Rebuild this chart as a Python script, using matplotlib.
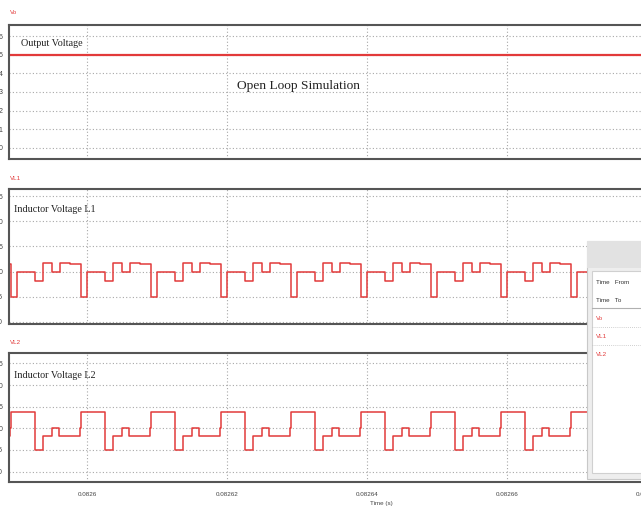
import numpy as np
import matplotlib
matplotlib.use("Agg")
import matplotlib.pyplot as plt
from matplotlib.patches import Rectangle
from matplotlib.lines import Line2D

W, H = 641, 509

# waveform data, one switching period (times in microseconds from period start)
period_us = 10.0
t0 = 0.0826                       # start of a period (s)
vo_level = 5.0
vl1_times = [0.0, 2.57, 3.71, 5.0, 6.14, 7.6, 9.14]
vl1_levels = [0.0, -1.86, 1.71, 0.0, 1.75, 1.6, -5.0]
vl2_times = [0.0, 2.57, 3.71, 5.0, 6.0, 9.0, 9.14]
vl2_levels = [3.86, -5.0, -1.67, 0.0, -1.67, 0.0, 3.86]
n_periods = range(-2, 9)

vo_ticks = [0, 1, 2, 3, 4, 5, 6]
vl_ticks = [-10, -5, 0, 5, 10, 15]
x_ticks = [0.0826, 0.08262, 0.08264, 0.08266, 0.08268]
x_ticklabels = ["0.0826", "0.08262", "0.08264", "0.08266", "0.08268"]

px = 2e-5 / 140.0                  # seconds per pixel
xmin = t0 - 78 * px
xmax = t0 + 573 * px

red = "#e23a3a"
grid_kw = dict(color="#a8a8a8", linestyle=(0, (1, 2)), linewidth=0.8)


def tile(times, levels):
    tt, vv = [], []
    for k in n_periods:
        for a, b in zip(times, levels):
            tt.append(t0 + (k * period_us + a) * 1e-6)
            vv.append(b)
    return np.array(tt), np.array(vv)


def fx(x):
    return x / W


def fy(y):
    return 1 - y / H


def make_axes(top, bottom):
    ax = fig.add_axes([fx(9), fy(bottom), fx(660) - fx(9), (bottom - top) / H])
    ax.set_xlim(xmin, xmax)
    ax.set_xticks(x_ticks)
    ax.grid(True, **grid_kw)
    ax.tick_params(length=0, labelsize=5, pad=4.5, colors="#444444")
    for s in ax.spines.values():
        s.set_color("#555555")
        s.set_linewidth(1.5)
    return ax


fig = plt.figure(figsize=(W / 100, H / 100), dpi=100)
plt.rcParams["font.family"] = "Liberation Sans"

# Vo
ax1 = make_axes(25, 159)
ax1.axhline(vo_level, color=red, lw=1.6)
ax1.set_ylim(-0.6, 6.6)
ax1.set_yticks(vo_ticks)
ax1.set_xticklabels([])
ax1.text(fx(21) / (fx(660) - fx(9)) - 0.0, 0, "")
fig.text(fx(21), fy(43), "Output Voltage", family="Liberation Serif",
         fontsize=7.3, va="center", color="#222222")
fig.text(fx(237), fy(86), "Open Loop Simulation", family="Liberation Serif",
         fontsize=9.6, va="center", color="#222222")

# VL1
ax2 = make_axes(189, 324)
t, v = tile(vl1_times, vl1_levels)
ax2.plot(t, v, drawstyle="steps-post", color=red, lw=1.1)
ax2.set_ylim(-10.4, 16.4)
ax2.set_yticks(vl_ticks)
ax2.set_xticklabels([])
fig.text(fx(14), fy(209), "Inductor Voltage L1", family="Liberation Serif",
         fontsize=7.3, va="center", color="#222222")

# VL2
ax3 = make_axes(353, 482)
t, v = tile(vl2_times, vl2_levels)
ax3.plot(t, v, drawstyle="steps-post", color=red, lw=1.1)
ax3.set_ylim(-12.4, 17.4)
ax3.set_yticks(vl_ticks)
ax3.set_xticklabels(x_ticklabels)
ax3.tick_params(axis="x", labelsize=4.5, pad=7)
fig.text(fx(14), fy(375), "Inductor Voltage L2", family="Liberation Serif",
         fontsize=7.3, va="center", color="#222222")
fig.text(fx(381), fy(503), "Time (s)", fontsize=4.5, ha="center",
         va="center", color="#444444")

# trace names above each panel
for name, y in [("Vo", 13), ("VL1", 178), ("VL2", 342)]:
    fig.text(fx(10), fy(y), name, fontsize=4.5, color=red, va="center")

# measurement side panel
def rect(x0, y0, x1, y1, fc, ec, lw=0.8):
    fig.add_artist(Rectangle((fx(x0), fy(y1)), fx(x1) - fx(x0), (y1 - y0) / H,
                             transform=fig.transFigure, facecolor=fc,
                             edgecolor=ec, lw=lw, zorder=10))

rect(587, 241, 660, 479, "#eeeeee", "#c8c8c8")
rect(587, 241, 660, 268, "#e2e2e2", "none")
rect(592, 271, 660, 473, "white", "#d0d0d0")
fig.text(fx(596), fy(283), "Time   From", fontsize=4.5, color="#333333",
         va="center", zorder=11)
fig.text(fx(596), fy(301), "Time   To", fontsize=4.5, color="#333333",
         va="center", zorder=11)
fig.add_artist(Line2D([fx(592), 1], [fy(308), fy(308)], transform=fig.transFigure,
                      color="#b0b0b0", lw=0.8, zorder=11))
for name, y in [("Vo", 318), ("VL1", 336), ("VL2", 354)]:
    fig.text(fx(596), fy(y), name, fontsize=4.5, color=red, va="center", zorder=11)
for y in [327, 345]:
    fig.add_artist(Line2D([fx(592), 1], [fy(y), fy(y)], transform=fig.transFigure,
                          color="#c0c0c0", lw=0.6, ls=(0, (1, 1.5)), zorder=11))

fig.savefig("out.png", dpi=100)
